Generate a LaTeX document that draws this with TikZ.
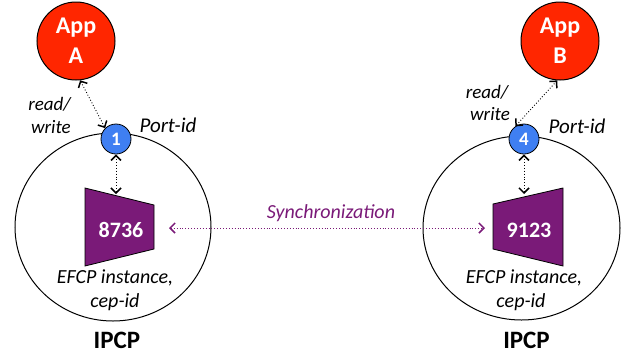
\documentclass[tikz,border=0pt]{standalone}
\usepackage{fontspec}
\setmainfont{Carlito}
\usetikzlibrary{arrows.meta,shapes.geometric}
\definecolor{appred}{HTML}{FF2600}
\definecolor{portblue}{HTML}{3F7FF2}
\definecolor{efcp}{HTML}{7A1A78}
\begin{document}
\begin{tikzpicture}[x=1pt,y=-1pt,
  app/.style={circle, draw=black, line width=1pt, fill=appred, text=white,
    font=\fontsize{24}{30}\selectfont\bfseries, minimum size=78pt, inner sep=0pt, align=center},
  port/.style={circle, draw=black, line width=0.8pt, fill=portblue, text=white,
    font=\fontsize{19}{22}\selectfont\bfseries, minimum size=30pt, inner sep=0pt},
  ipcp/.style={ellipse, draw=black, line width=1pt, inner sep=0pt},
  lbl/.style={font=\fontsize{19}{23}\selectfont\itshape, inner sep=0pt},
  plbl/.style={font=\fontsize{21}{25}\selectfont\itshape, inner sep=0pt},
  elbl/.style={font=\fontsize{20}{24}\selectfont\itshape, inner sep=0pt},
  title/.style={font=\fontsize{25}{30}\selectfont\bfseries, inner sep=0pt},
  num/.style={font=\fontsize{22}{26}\selectfont\bfseries, text=white, inner sep=0pt},
  trap/.style={fill=efcp, draw=black, line width=0.8pt},
  rw/.style={dotted, line width=0.9pt,
    {Straight Barb[length=5pt,width=10pt,line width=1.5pt]}-{Straight Barb[length=5pt,width=10pt,line width=1.5pt]}},
  sync/.style={dotted, line width=0.9pt, draw=efcp,
    {Straight Barb[length=5pt,width=10pt,line width=1.5pt]}-{Straight Barb[length=5pt,width=10pt,line width=1.5pt]}}
]
\useasboundingbox (0,0) rectangle (624,354);
% IPCP circles
\node[ipcp, minimum width=196pt, minimum height=188pt] (ipcpA) at (113,227) {};
\node[ipcp, minimum width=197pt, minimum height=184pt] (ipcpB) at (521.5,228) {};
% EFCP trapezoids
\draw[trap] (85,188) -- (154,205) -- (154,249) -- (85,266) -- cycle;
\draw[trap] (493,204) -- (563,188) -- (563,266) -- (493,249) -- cycle;
\node[num, anchor=base] (efcpA) at (121,237) {8736};
\node[num, anchor=base] (efcpB) at (529,237) {9123};
% apps
\node[app] (appA) at (76,41) {App\\A};
\node[app] (appB) at (560,41) {App\\B};
% ports
\node[port] (port1) at (116,139) {1};
\node[port] (port4) at (524,139) {4};
% coordinates
\coordinate (topA) at (116,194);
\coordinate (topB) at (524,194);
\coordinate (syncL) at (169,228);
\coordinate (syncR) at (485,228);
% connectors
\draw[rw] (appA.-84) -- (port1.135);
\draw[rw] (port4.124) -- (appB.-94);
\draw[rw] (port1.south) -- (topA);
\draw[rw] (port4.south) -- (topB);
\draw[sync] (syncL) -- (syncR);
% labels
\node[lbl, anchor=base east] (rwA1) at (71,110) {read/};
\node[lbl, anchor=base east] (rwA2) at (71,133) {write};
\node[lbl, anchor=base] (rwB1) at (487,98) {read/};
\node[lbl, anchor=base] (rwB2) at (490,120) {write};
\node[plbl, anchor=base] (pidA) at (168,132) {Port-id};
\node[plbl, anchor=base] (pidB) at (577,133) {Port-id};
\node[elbl, anchor=base, text=efcp] (synclbl) at (331,218) {Synchronization};
\node[elbl, anchor=base] (efA1) at (115,283) {EFCP instance,};
\node[elbl, anchor=base] (efA2) at (115,307) {cep-id};
\node[elbl, anchor=base] (efB1) at (524,283) {EFCP instance,};
\node[elbl, anchor=base] (efB2) at (521,307) {cep-id};
\node[title, anchor=base] (ipA) at (117,348) {IPCP};
\node[title, anchor=base] (ipB) at (526.5,348) {IPCP};
\end{tikzpicture}
\end{document}
